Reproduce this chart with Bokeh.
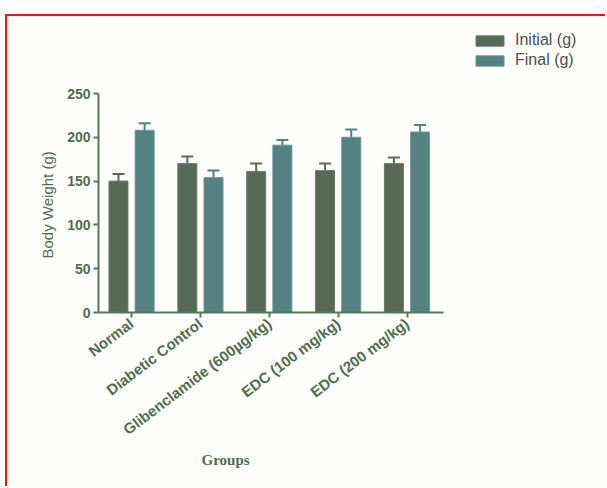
import numpy as np
from bokeh.plotting import figure
from bokeh.models import (ColumnDataSource, FixedTicker, Legend, LegendItem,
                          Whisker, TeeHead, Title)
from bokeh.embed import file_html
from bokeh.resources import INLINE

groups = ["Normal", "Diabetic Control", "Glibenclamide (600µg/kg)",
          "EDC (100 mg/kg)", "EDC (200 mg/kg)"]
initial = [150, 170, 161, 162, 170]
initial_err = [8, 8, 9, 8, 7]
final = [208, 154, 191, 200, 206]
final_err = [8, 8, 6, 9, 8]
y_ticks = [0, 50, 100, 150, 200, 250]
series_names = ["Initial (g)", "Final (g)"]

C_INIT = "#566a55"
C_INIT_EDGE = "#6a7d69"
C_FINAL = "#538281"
C_FINAL_EDGE = "#6a9795"
C_AXIS = "#577857"
C_TEXT = "#4f6e4f"
BG = "#fdfdfb"

W, H = 600, 472
FL, FB = 91, 296          # frame left / bottom (canvas px)
AX_W, AX_H = 345, 219     # axis extents (px)
x0, x1 = -0.48, 4.53
y0, y1 = 0, 250
x_end = x0 + (x1 - x0) * (W - FL) / AX_W
y_end = y0 + (y1 - y0) * FB / AX_H

idx = np.arange(len(groups))
off = 0.19
bw = 0.276

src_i = ColumnDataSource(dict(x=idx - off, top=initial,
                              up=np.array(initial) + np.array(initial_err)))
src_f = ColumnDataSource(dict(x=idx + off, top=final,
                              up=np.array(final) + np.array(final_err)))

p = figure(width=W, height=H, output_backend="svg", toolbar_location=None,
           x_range=(x0, x_end), y_range=(y0, y_end),
           min_border_left=FL, min_border_right=0, min_border_top=0,
           min_border_bottom=H - FB, background_fill_color=BG,
           border_fill_color=BG, outline_line_color=None,
           margin=(14, 0, 0, 5),
           styles={"border-top": "2px solid #ff1010",
                   "border-left": "2px solid #ff1010"})
p.grid.visible = False

r_i = p.vbar(x="x", top="top", width=bw, source=src_i, fill_color=C_INIT,
             line_color=C_INIT_EDGE, line_width=1)
r_f = p.vbar(x="x", top="top", width=bw, source=src_f, fill_color=C_FINAL,
             line_color=C_FINAL_EDGE, line_width=1)

for src, col in ((src_i, C_INIT), (src_f, C_FINAL)):
    w = Whisker(base="x", lower="top", upper="up", source=src,
                line_color=col, line_width=2,
                upper_head=TeeHead(size=12, line_color=col, line_width=2),
                lower_head=None, level="underlay")
    p.add_layout(w)

# axes
for ax in (p.xaxis[0], p.yaxis[0]):
    ax.axis_line_color = C_AXIS
    ax.axis_line_width = 2
    ax.major_tick_line_color = C_AXIS
    ax.major_tick_line_width = 2
    ax.major_tick_out = 5
    ax.major_tick_in = 0
    ax.minor_tick_line_color = None
    ax.major_label_text_color = C_TEXT
    ax.major_label_text_font = "Liberation Sans"
    ax.major_label_text_font_style = "bold"

p.yaxis.bounds = (y0, y1)
p.yaxis.ticker = FixedTicker(ticks=y_ticks)
p.yaxis.major_label_text_font_size = "14px"
p.yaxis.major_label_standoff = 3

p.xaxis.bounds = (x0, x1)
p.xaxis.ticker = FixedTicker(ticks=list(idx))
p.xaxis.major_label_overrides = {int(i): g for i, g in zip(idx, groups)}
p.xaxis.major_label_orientation = 0.65
p.xaxis.major_label_text_font_size = "15px"
p.xaxis.major_label_standoff = 4

ytitle = Title(text="Body Weight (g)", align="left", offset=54, standoff=18,
               text_font="Liberation Sans", text_font_style="normal",
               text_font_size="15px", text_color=C_TEXT)
p.add_layout(ytitle, "left")

xtitle = Title(text="Groups", align="left", offset=103, standoff=5,
               text_font="Liberation Serif", text_font_style="bold",
               text_font_size="15px", text_color=C_TEXT)
p.add_layout(xtitle, "below")

legend = Legend(items=[LegendItem(label=series_names[0], renderers=[r_i]),
                       LegendItem(label=series_names[1], renderers=[r_f])],
                location=(374, 242), glyph_width=35, glyph_height=13,
                label_height=20, spacing=0, padding=0, margin=0,
                label_standoff=8, border_line_color=None,
                background_fill_alpha=0,
                label_text_font="Liberation Sans",
                label_text_font_size="16px", label_text_color="#505050")
p.add_layout(legend, "center")

open("out.html", "w").write(file_html(p, INLINE))
